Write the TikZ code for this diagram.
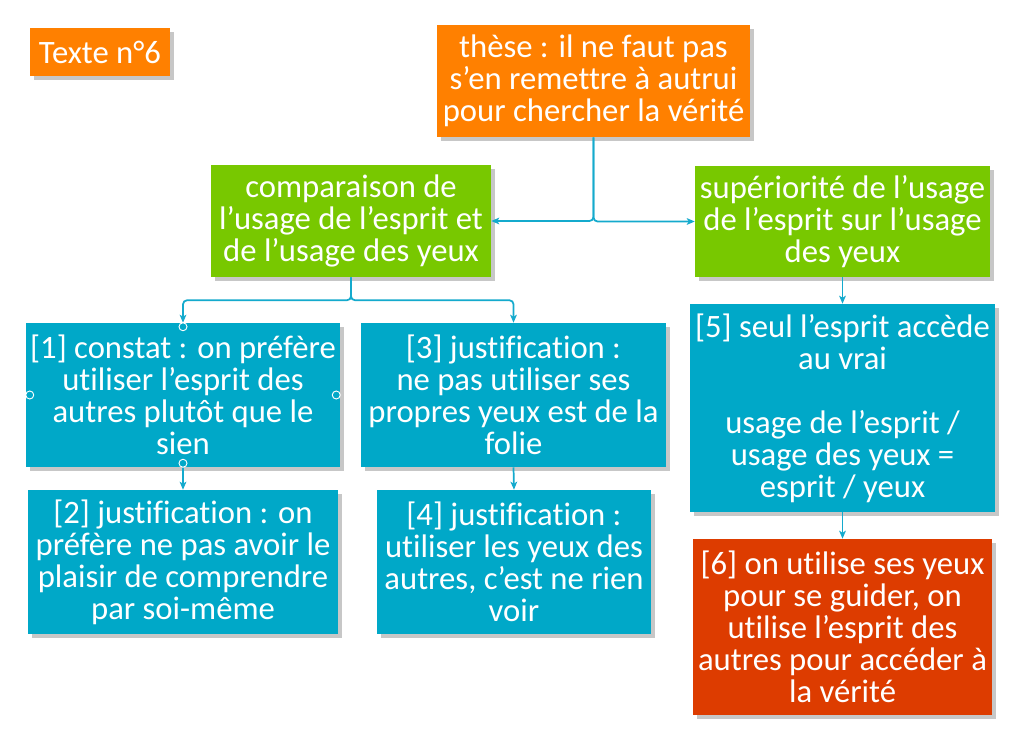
\documentclass[tikz,border=0pt]{standalone}
\usepackage{fontspec}
\setmainfont{Carlito}[Ligatures=NoCommon]
\usetikzlibrary{arrows.meta,shadows,calc}
\definecolor{theseorange}{RGB}{255,128,0}
\definecolor{partgreen}{RGB}{120,200,0}
\definecolor{stepblue}{RGB}{0,168,200}
\definecolor{endred}{RGB}{221,60,0}
\definecolor{linkblue}{RGB}{20,170,205}
\begin{document}
\begin{tikzpicture}[
    x=0.75pt, y=-0.75pt,
    box/.style={inner sep=0pt, text=white, align=center,
        font=\fontsize{24.5}{24}\selectfont,
        drop shadow={shadow xshift=3pt, shadow yshift=-3pt, opacity=0.22, fill=black}},
    orangebox/.style={box, fill=theseorange},
    greenbox/.style={box, fill=partgreen},
    bluebox/.style={box, fill=stepblue},
    redbox/.style={box, fill=endred},
    link/.style={draw=linkblue, line width=1.3pt, rounded corners=3pt,
        -{Stealth[length=6pt,width=5pt,inset=1.5pt]}},
    handle/.style={draw=white, line width=0.7pt}
    ]
    \useasboundingbox[fill=white] (0,0) rectangle (1024,752);

    % titles
    \node[orangebox, minimum width=105pt, minimum height=36pt] (texte) at (100,52) {Texte n°6};
    \node[orangebox, minimum width=234.75pt, minimum height=84pt] (these) at (593.5,81)
        {thèse : il ne faut pas\\s’en remettre à autrui\\pour chercher la vérité};

    % two parts
    \node[greenbox, minimum width=210pt, minimum height=84pt] (comp) at (351,221)
        {comparaison de\\l’usage de l’esprit et\\de l’usage des yeux};
    \node[greenbox, minimum width=221.25pt, minimum height=83.25pt] (sup) at (842.5,221.5)
        {supériorité de l’usage\\de l’esprit sur l’usage\\des yeux};

    % steps
    \node[bluebox, minimum width=235.5pt, minimum height=108pt] (n1) at (183,395)
        {[1] constat : on préfère\\utiliser l’esprit des\\autres plutôt que le\\sien};
    \node[bluebox, minimum width=232.5pt, minimum height=108pt] (n2) at (183,562)
        {[2] justification : on\\préfère ne pas avoir le\\plaisir de comprendre\\par soi-même};
    \node[bluebox, minimum width=228.75pt, minimum height=108pt] (n3) at (513.5,395)
        {[3] justification :\\ne pas utiliser ses\\propres yeux est de la\\folie};
    \node[bluebox, minimum width=205.5pt, minimum height=108pt] (n4) at (514,562)
        {[4] justification :\\utiliser les yeux des\\autres, c’est ne rien\\voir};
    \node[bluebox, minimum width=228.75pt, minimum height=156pt] (n5) at (842.5,408)
        {[5] seul l’esprit accède\\au vrai\\[24pt]usage de l’esprit /\\usage des yeux =\\esprit / yeux};
    \node[redbox, minimum width=224.25pt, minimum height=132pt] (n6) at (842.5,627)
        {[6] on utilise ses yeux\\pour se guider, on\\utilise l’esprit des\\autres pour accéder à\\la vérité};

    % links
    \draw[link] (these.south) |- (comp.east);
    \draw[link] (these.south) |- (sup.west);
    \draw[link] (comp.south) -- ++(0,23) -| (n1.north);
    \draw[link] (comp.south) -- ++(0,23) -| (n3.north);
    \draw[link] (n1.south) -- (n2.north);
    \draw[link] (n3.south) -- (n4.north);
    \draw[link] (sup.south) -- (n5.north);
    \draw[link] (n5.south) -- (n6.north);

    % selection handles
    \foreach \side in {north,south,east,west}
        \draw[handle] ($(n1.\side)!3pt!(n1.center)$) circle (3pt);
\end{tikzpicture}
\end{document}
